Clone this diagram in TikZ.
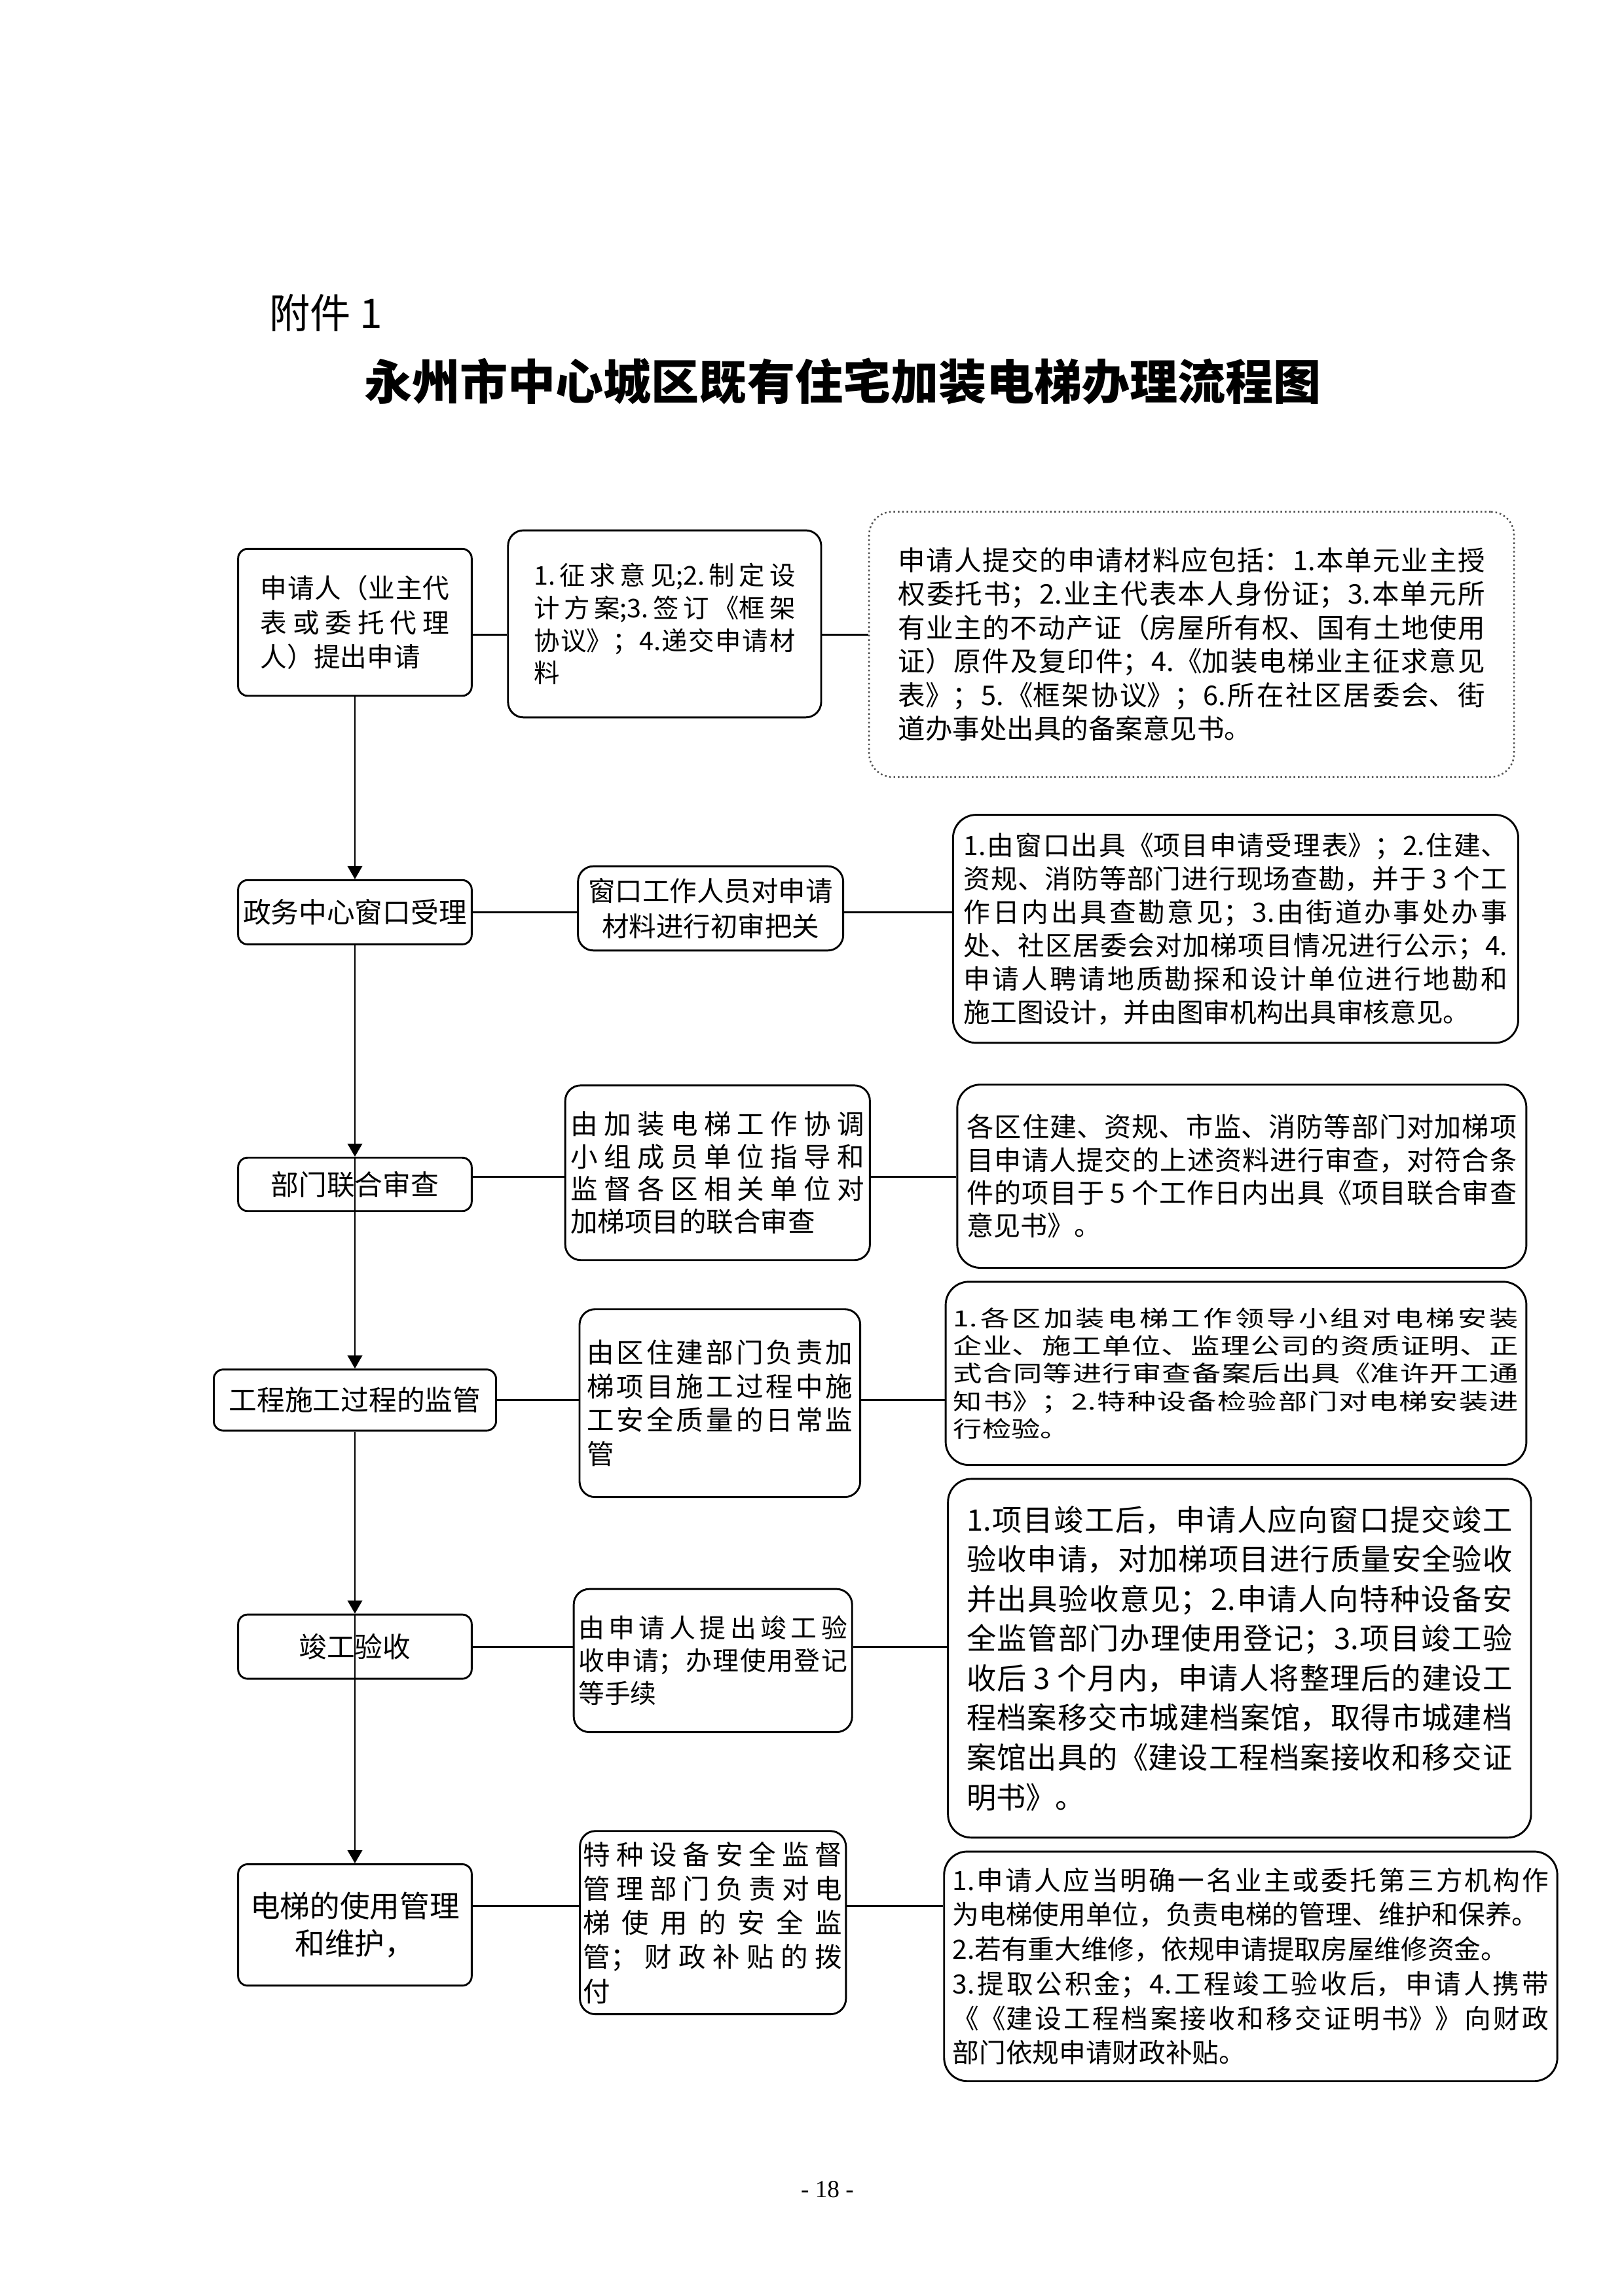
\documentclass[tikz,border=0pt]{standalone}
\usepackage{fontspec}
\setmainfont{Noto Sans CJK SC}
\newfontfamily\widecjk{Noto Sans CJK SC}[FakeStretch=1.3]
\newfontfamily\pagefont{Liberation Serif}
\XeTeXlinebreaklocale "zh"
\XeTeXlinebreakskip=0pt plus 3pt
\tolerance=10000
\hbadness=10000
\usetikzlibrary{arrows.meta,positioning}
\newcommand{\fs}[2]{\fontsize{#1}{#2}\selectfont}
\tikzset{
  lbox/.style   ={rectangle, rounded corners=1.2mm, draw=black, line width=0.7pt,
                  minimum width=30.2mm, inner sep=0pt, align=center, font=\fs{10.3}{12.5}},
  mbox/.style   ={rectangle, rounded corners=2mm, draw=black, line width=0.7pt,
                  inner sep=0pt, align=justify},
  rbox/.style   ={rectangle, rounded corners=3mm, draw=black, line width=0.7pt,
                  inner sep=0pt, align=justify},
  rdotbox/.style={rbox, draw=black!70, line width=0.6pt, densely dotted},
  flowline/.style={-{Triangle[length=1.7mm,width=1.9mm]}, line width=0.6pt},
  tieline/.style ={line width=0.75pt},
}
\begin{document}
\begin{tikzpicture}[x=1mm, y=-1mm]
  \path[fill=white, use as bounding box] (0,0) rectangle (210,297);
  \node[anchor=west, font=\fs{15}{15}] (att) at (33.6,40.5) {附件 1};
  \node[font=\fs{17.6}{20}\bfseries] (title) at (109,49.3) {永州市中心城区既有住宅加装电梯办理流程图};

  % left column: the steps
  \node[lbox, minimum height=19mm, text width=24.4mm, align=justify, font=\fs{9.8}{12.6}]
       (st1) at (45.9,80.5) {申请人（业主代\linebreak 表或委托代理\linebreak 人）提出申请};
  \node[lbox, minimum height=8.3mm] (st2) at (45.9,118.0) {政务中心窗口受理};
  \node[lbox, minimum height=6.9mm] (st3) at (45.9,153.2) {部门联合审查};
  \node[lbox, minimum width=36.5mm, minimum height=7.9mm] (st4) at (45.9,181.1) {工程施工过程的监管};
  \node[lbox, minimum height=8.3mm] (st5) at (45.9,213.0) {竣工验收};
  \node[lbox, minimum height=15.7mm, font=\fs{11}{13.7}] (st6) at (45.9,249.0) {电梯的使用管理\\和维护，};

  % middle column
  \node[mbox, minimum width=40.5mm, minimum height=24.2mm, text width=33.8mm, font=\fs{9.5}{12}]
       (md1) at (85.95,80.7) {1.征求意见;2.制定设\linebreak 计方案;3.签订《框架\linebreak 协议》；4.递交申请材\linebreak 料};
  \node[mbox, minimum width=34.3mm, minimum height=10.9mm, align=center, font=\fs{10}{13}]
       (md2) at (91.9,117.5) {窗口工作人员对申请\\材料进行初审把关};
  \node[mbox, minimum width=39.4mm, minimum height=22.6mm, text width=38mm, font=\fs{10}{12}]
       (md3) at (92.8,151.7) {\parfillskip=0pt 由加装电梯工作协调\linebreak 小组成员单位指导和\linebreak 监督各区相关单位对\linebreak 加梯项目的联合审查};
  \node[mbox, minimum width=36.3mm, minimum height=24.3mm, text width=34.4mm, font=\fs{10}{12.5}]
       (md4) at (93.1,181.5) {由区住建部门负责加\linebreak 梯项目施工过程中施\linebreak 工安全质量的日常监\linebreak 管};
  \node[mbox, minimum width=36mm, minimum height=18.5mm, text width=34.8mm, font=\fs{9.6}{12}]
       (md5) at (92.2,214.8) {由申请人提出竣工验\linebreak 收申请；办理使用登记\linebreak 等手续};
  \node[mbox, minimum width=34.4mm, minimum height=23.7mm, text width=33.5mm, font=\fs{10}{12.6}]
       (md6) at (92.2,248.7) {特种设备安全监督\linebreak 管理部门负责对电\linebreak 梯使用的安全监\linebreak 管；财政补贴的拨\linebreak 付};

  % right column: notes
  \node[rdotbox, minimum width=83.4mm, minimum height=34.3mm, text width=75.9mm, font=\fs{10}{12.4}]
       (nt1) at (154.1,83.35) {申请人提交的申请材料应包括：1.本单元业主授\linebreak 权委托书；2.业主代表本人身份证；3.本单元所\linebreak 有业主的不动产证（房屋所有权、国有土地使用\linebreak 证）原件及复印件；4.《加装电梯业主征求意见\linebreak 表》；5.《框架协议》；6.所在社区居委会、街\linebreak 道办事处出具的备案意见书。};
  \node[rbox, minimum width=73.1mm, minimum height=29.5mm, text width=70.3mm, font=\fs{9.8}{12.3}]
       (nt2) at (159.8,120.15) {1.由窗口出具《项目申请受理表》；2.住建、\linebreak 资规、消防等部门进行现场查勘，并于 3 个工\linebreak 作日内出具查勘意见；3.由街道办事处办事\linebreak 处、社区居委会对加梯项目情况进行公示；4.\linebreak 申请人聘请地质勘探和设计单位进行地勘和\linebreak 施工图设计，并由图审机构出具审核意见。};
  \node[rbox, minimum width=73.6mm, minimum height=23.7mm, text width=71.1mm, font=\fs{9.9}{12.1}]
       (nt3) at (160.6,152.15) {各区住建、资规、市监、消防等部门对加梯项\linebreak 目申请人提交的上述资料进行审查，对符合条\linebreak 件的项目于 5 个工作日内出具《项目联合审查\linebreak 意见书》。};
  \node[rbox, minimum width=75.1mm, minimum height=23.7mm, text width=73.1mm, font=\widecjk\fs{8.2}{10.2}]
       (nt4) at (159.85,177.65) {1.各区加装电梯工作领导小组对电梯安装\linebreak 企业、施工单位、监理公司的资质证明、正\linebreak 式合同等进行审查备案后出具《准许开工通\linebreak 知书》；2.特种设备检验部门对电梯安装进\linebreak 行检验。};
  \node[rbox, minimum width=75.4mm, minimum height=46.4mm, text width=70.6mm, font=\fs{10.9}{14.6}]
       (nt5) at (160.3,214.5) {1.项目竣工后，申请人应向窗口提交竣工\linebreak 验收申请，对加梯项目进行质量安全验收\linebreak 并出具验收意见；2.申请人向特种设备安\linebreak 全监管部门办理使用登记；3.项目竣工验\linebreak 收后 3 个月内，申请人将整理后的建设工\linebreak 程档案移交市城建档案馆，取得市城建档\linebreak 案馆出具的《建设工程档案接收和移交证\linebreak 明书》。};
  \node[rbox, minimum width=79.3mm, minimum height=29.7mm, text width=77.1mm, font=\fs{9.8}{12.7}]
       (nt6) at (161.75,254.35) {1.申请人应当明确一名业主或委托第三方机构作\linebreak 为电梯使用单位，负责电梯的管理、维护和保养。\\2.若有重大维修，依规申请提取房屋维修资金。\\3.提取公积金；4.工程竣工验收后，申请人携带\linebreak 《《建设工程档案接收和移交证明书》》向财政\linebreak 部门依规申请财政补贴。};

  \node[font=\pagefont\fs{9}{9}] (pageno) at (107,283.2) {- 18 -};

  % main flow
  \draw[flowline] (st1.south) -- (st2.north);
  \draw[flowline] (st2.south) -- (st3.north);
  \draw[flowline] (st3.north) -- (st4.north);
  \draw[flowline] (st4.south) -- (st5.north);
  \draw[flowline] (st5.north) -- (st6.north);

  % ties to the side boxes
  \coordinate (t1) at ([yshift=-1.6mm]st1.east);
  \coordinate (t3) at ([yshift=1mm]st3.east);
  \coordinate (t6) at ([yshift=2.4mm]st6.east);
  \draw[tieline] (t1) -- (t1 -| md1.west);
  \draw[tieline] (t1 -| md1.east) -- (t1 -| nt1.west);
  \draw[tieline] (st2.east) -- (st2.east -| md2.west);
  \draw[tieline] (st2.east -| md2.east) -- (st2.east -| nt2.west);
  \draw[tieline] (t3) -- (t3 -| md3.west);
  \draw[tieline] (t3 -| md3.east) -- (t3 -| nt3.west);
  \draw[tieline] (st4.east) -- (st4.east -| md4.west);
  \draw[tieline] (st4.east -| md4.east) -- (st4.east -| nt4.west);
  \draw[tieline] (st5.east) -- (st5.east -| md5.west);
  \draw[tieline] (st5.east -| md5.east) -- (st5.east -| nt5.west);
  \draw[tieline] (t6) -- (t6 -| md6.west);
  \draw[tieline] (t6 -| md6.east) -- (t6 -| nt6.west);
\end{tikzpicture}
\end{document}
